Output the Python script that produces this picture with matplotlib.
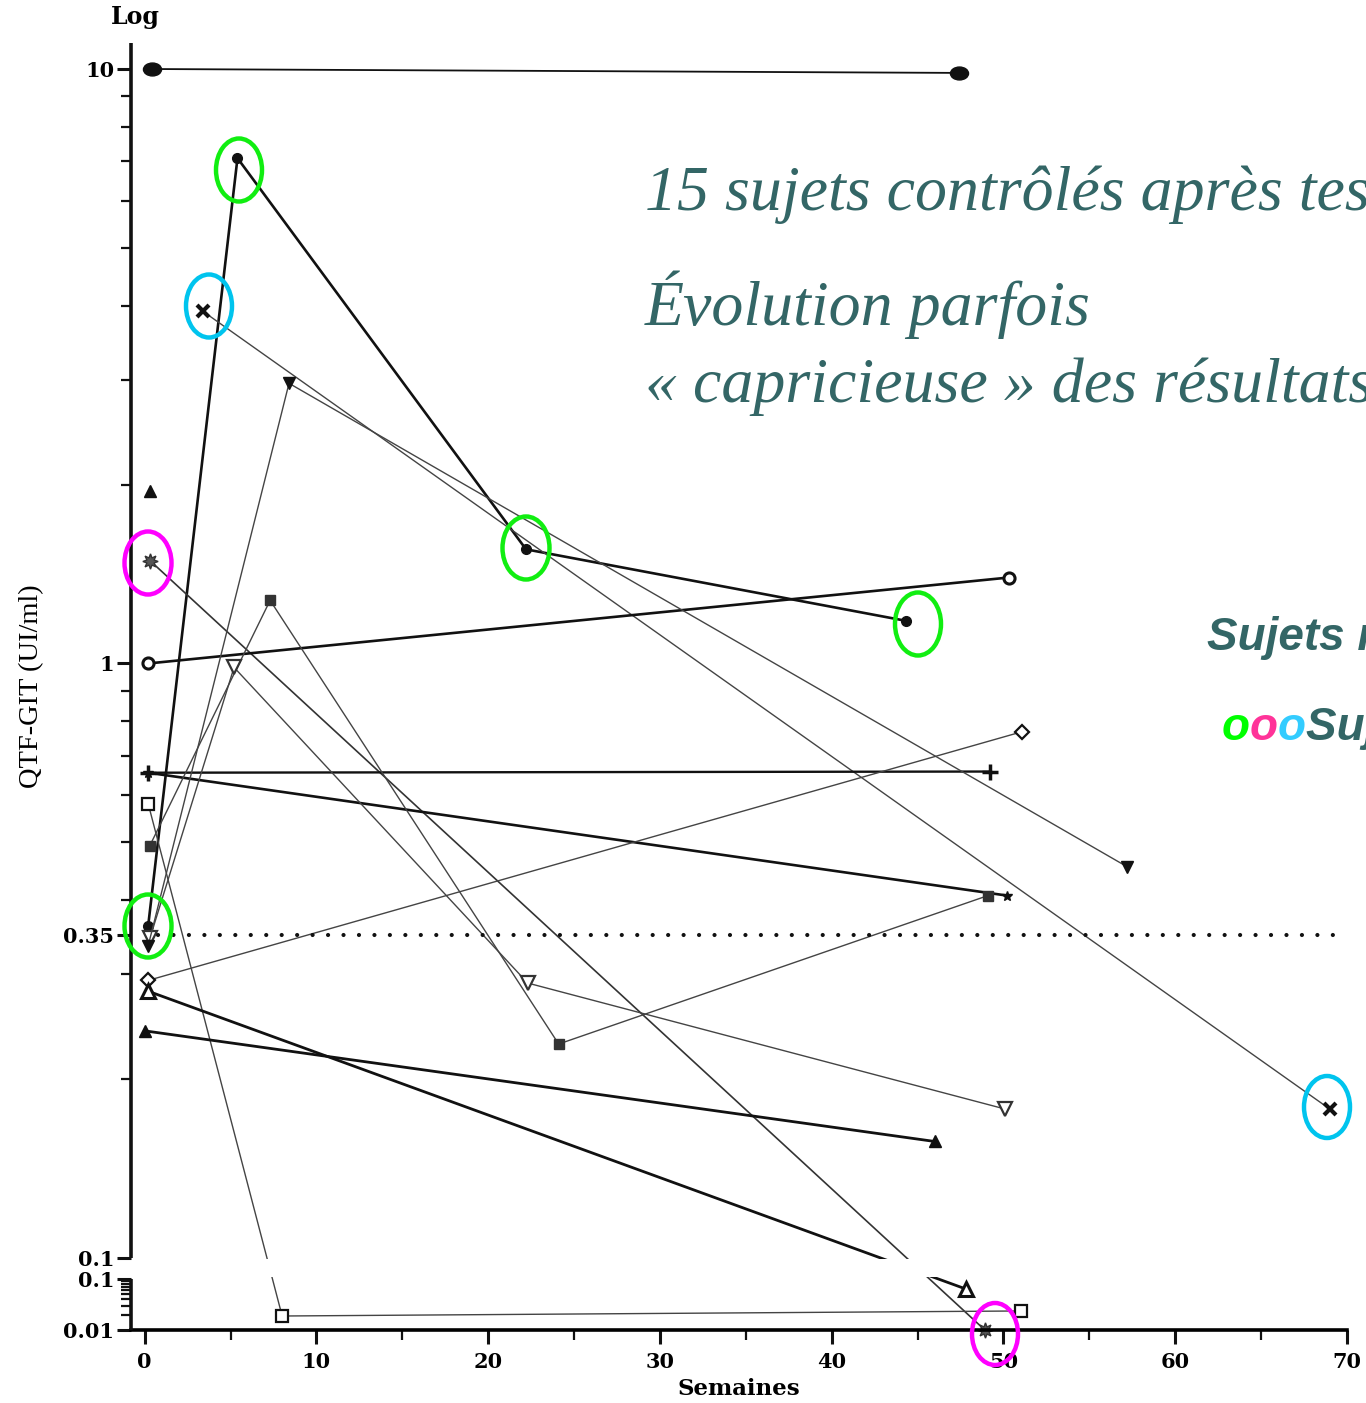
import numpy as np
import matplotlib
matplotlib.use("Agg")
import matplotlib.pyplot as plt
from matplotlib.patches import Ellipse, Rectangle
from matplotlib.path import Path
from matplotlib.transforms import Affine2D

# ---------------- data (weeks, QTF-GIT UI/ml) ----------------
s01_w = [0.4, 47.4];              s01_v = [10.0, 9.85]             # filled big dot
s02_w = [0.2, 5.4, 22.2, 44.3];   s02_v = [0.362, 7.08, 1.556, 1.18] # small filled dot
s03_w = [3.4, 69.0];              s03_v = [3.91, 0.178]            # cross
s04_w = [0.3];                    s04_v = [1.95]                   # filled triangle alone
s05_w = [0.3, 48.9];              s05_v = [1.49, 0.0101]           # grey star
s06_w = [0.2, 50.3];              s06_v = [1.0, 1.395]             # open circle
s07_w = [0.2, 49.2];              s07_v = [0.655, 0.658]           # plus
s08_w = [0.2, 50.2];              s08_v = [0.655, 0.407]           # small star
s09_w = [0.3, 7.3, 24.1, 49.1];   s09_v = [0.494, 1.277, 0.229, 0.407] # filled square
s10_w = [0.2, 8.0, 51.0];         s10_v = [0.581, 0.0188, 0.0236]  # open square
s11_w = [0.3, 5.2, 22.3, 50.1];   s11_v = [0.345, 0.985, 0.290, 0.178] # open down triangle
s12_w = [0.2, 8.4, 57.2];         s12_v = [0.335, 2.96, 0.455]     # filled down triangle
s13_w = [0.2, 51.1];              s13_v = [0.293, 0.768]           # open diamond
s14_w = [0.2, 47.8];              s14_v = [0.281, 0.0637]          # open triangle
s15_w = [0.0, 46.0];              s15_v = [0.241, 0.157]           # filled triangle

threshold = 0.35
x_ticks = [0, 10, 20, 30, 40, 50, 60, 70]
y_tick_vals = [10, 1, 0.35, 0.1, 0.09999, 0.01]
y_tick_labels = ["10", "1", "0.35", "0.1", "0.1", "0.01"]

# ---------------- broken log scale ----------------
G = 21 / 594.0
R = 51 / 594.0

def fwd(v):
    v = np.asarray(v, dtype=float)
    with np.errstate(all="ignore"):
        lv = np.log10(np.clip(v, 1e-12, None))
    return np.where(v >= 0.1, lv, -1 - G - (-1 - lv) * R)

def inv(y):
    y = np.asarray(y, dtype=float)
    with np.errstate(all="ignore"):
        up = 10.0 ** np.clip(y, -5, 5)
        low = 10.0 ** np.clip(-1 - (-1 - G - y) / R, -12, 5)
    return np.where(y >= -1, up, np.where(y <= -1 - G, low, 0.1))

W, H = 1366, 1403
fig = plt.figure(figsize=(W / 100, H / 100), dpi=100)
ax = fig.add_axes([131 / W, 1 - 1330 / H, (1347 - 131) / W, (1330 - 43) / H])
ax.set_yscale("function", functions=(fwd, inv))
ax.set_xlim(-0.8, 70)
ax.set_ylim(0.01, 11.06)

serif = "Liberation Serif"
tickfont = "DejaVu Serif"
K = "#111111"
T = "#444444"

oval = Path.unit_circle().transformed(Affine2D().scale(1.4, 1.0))

series = [
    (s01_w, s01_v, dict(color=K, lw=1.3, marker=oval, ms=13)),
    (s02_w, s02_v, dict(color=K, lw=1.9, marker="o", ms=7)),
    (s03_w, s03_v, dict(color=T, lw=1.0, marker="x", ms=9, mew=3, mec=K)),
    (s04_w, s04_v, dict(color=K, lw=1.0, marker="^", ms=9, ls="none")),
    (s05_w, s05_v, dict(color="#333333", lw=1.2, marker=(8, 1, 0), ms=11, mfc="#555555")),
    (s06_w, s06_v, dict(color=K, lw=1.9, marker="o", ms=8, mfc="white", mew=2.2)),
    (s07_w, s07_v, dict(color=K, lw=1.7, marker="+", ms=11, mew=2.5)),
    (s08_w, s08_v, dict(color=K, lw=1.9, marker="*", ms=7)),
    (s09_w, s09_v, dict(color=T, lw=1.0, marker="s", ms=7, mfc="#333333", mec="#333333")),
    (s10_w, s10_v, dict(color=T, lw=1.0, marker="s", ms=9, mfc="white", mec=K, mew=1.6)),
    (s11_w, s11_v, dict(color=T, lw=1.0, marker="v", ms=10, mfc="white", mec="#333333", mew=1.6)),
    (s12_w, s12_v, dict(color=T, lw=1.0, marker="v", ms=8, mfc=K, mec=K)),
    (s13_w, s13_v, dict(color=T, lw=1.0, marker="D", ms=7, mfc="white", mec=K, mew=1.6)),
    (s14_w, s14_v, dict(color=K, lw=2.0, marker="^", ms=10, mfc="white", mec=K, mew=2.2)),
    (s15_w, s15_v, dict(color=K, lw=2.0, marker="^", ms=9)),
]
for w, v, st in series:
    ax.plot(w, v, clip_on=False, zorder=2, **st)

# threshold dotted line
ax.plot([0.8, 69.6], [threshold, threshold], color=K, lw=3,
        ls=(0, (0.01, 3.7)), dash_capstyle="round", zorder=2)

# white gap of the axis break
ax.add_patch(Rectangle((0.004, 0.0415), 0.996, 0.0135, transform=ax.transAxes,
                       facecolor="white", edgecolor="none", zorder=3))

# axes styling
for side in ("top", "right", "left"):
    ax.spines[side].set_visible(False)
ax.spines["bottom"].set_linewidth(2.6)
ax.plot([-0.8, -0.8], [0.1, 11.06], color=K, lw=2.6, clip_on=False, zorder=4,
        solid_capstyle="butt")
ax.plot([-0.8, -0.8], [0.01, 0.09999], color=K, lw=2.6, clip_on=False, zorder=4,
        solid_capstyle="butt")

ax.set_yticks(y_tick_vals)
ax.set_yticklabels(y_tick_labels)
minor_y = [0.02, 0.03, 0.04, 0.05, 0.06, 0.07, 0.08, 0.09,
           0.2, 0.3, 0.4, 0.5, 0.6, 0.7, 0.8, 0.9,
           2, 3, 4, 5, 6, 7, 8, 9]
ax.set_yticks(minor_y, minor=True)
ax.set_xticks(x_ticks)
ax.set_xticks([5, 15, 25, 35, 45, 55, 65], minor=True)

ax.tick_params(axis="both", which="major", direction="out", length=10, width=2.2,
               color=K, labelsize=15, pad=2)
ax.tick_params(axis="both", which="minor", direction="out", length=7, width=1.6, color=K)
ax.tick_params(axis="x", which="major", pad=6)
for lab in ax.get_xticklabels() + ax.get_yticklabels():
    lab.set_fontfamily(tickfont)
    lab.set_fontweight("bold")

ax.set_xlabel("Semaines", fontfamily=tickfont, fontweight="bold", fontsize=16.5, labelpad=4)
fig.text(135 / W, 1 - 17 / H, "Log", fontfamily=tickfont, fontweight="bold", fontsize=17,
         ha="center", va="center")
fig.text(32 / W, 1 - 686 / H, "QTF-GIT (UI/ml)", fontfamily=serif, fontsize=20.5,
         rotation=90, ha="center", va="center")

# annotation ellipses (pixel positions)
def ell(cx, cy, w, h, col):
    fig.add_artist(Ellipse((cx / W, 1 - cy / H), w / W, h / H, transform=fig.transFigure,
                           fill=False, edgecolor=col, lw=3.2, zorder=10))

GREEN, CYAN, MAG = "#11ee11", "#00c4ee", "#ff00ff"
ell(239, 170, 46, 63, GREEN)
ell(148, 926, 47, 63, GREEN)
ell(526, 548, 47, 63, GREEN)
ell(918, 624, 46, 63, GREEN)
ell(209, 306, 46, 63, CYAN)
ell(1327, 1107, 46, 62, CYAN)
ell(148, 563, 47, 63, MAG)
ell(995, 1334, 46, 62, MAG)

# overlay text
TEAL = "#336666"
fig.text(645 / W, 1 - 210 / H, "15 sujets contrôlés après test", fontfamily=serif,
         style="italic", fontsize=46, color=TEAL, ha="left", va="baseline")
fig.text(645 / W, 1 - 325 / H, "Évolution parfois", fontfamily=serif,
         style="italic", fontsize=46, color=TEAL, ha="left", va="baseline")
fig.text(645 / W, 1 - 402 / H, "« capricieuse » des résultats", fontfamily=serif,
         style="italic", fontsize=46, color=TEAL, ha="left", va="baseline")

sans = "Liberation Sans"
fig.text(1207 / W, 1 - 650 / H, "Sujets négatifs", fontfamily=sans, style="italic",
         fontweight="bold", fontsize=33, color=TEAL, ha="left", va="baseline")

renderer = fig.canvas.get_renderer()
x = 1222.0
for txt, col in [("o", "#00ff00"), ("o", "#ff3399"), ("o", "#33ccff"), ("Sujets à suivre", TEAL)]:
    t = fig.text(x / W, 1 - 740 / H, txt, fontfamily=sans, style="italic",
                 fontweight="bold", fontsize=33, color=col, ha="left", va="baseline")
    bb = t.get_window_extent(renderer=renderer)
    x += bb.width

fig.savefig("out.png", dpi=100)
